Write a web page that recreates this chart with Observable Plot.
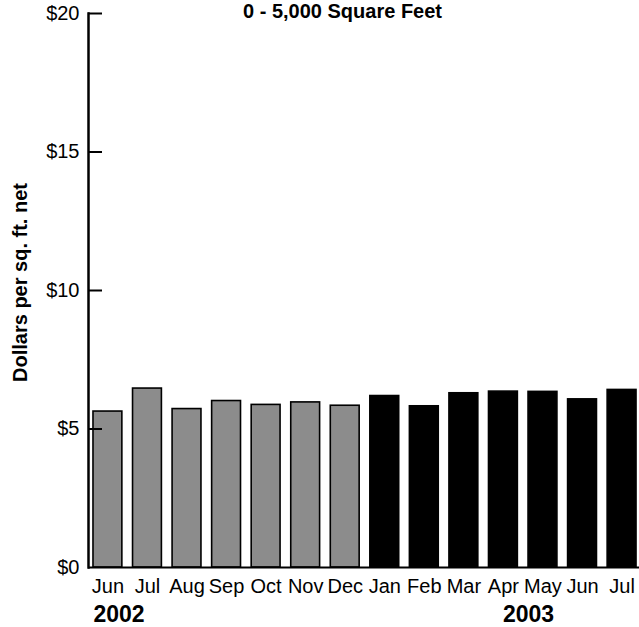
<!DOCTYPE html>
<html>
<head>
<meta charset="utf-8">
<script src="https://cdn.jsdelivr.net/npm/d3@7"></script>
<script src="https://cdn.jsdelivr.net/npm/@observablehq/plot@0.6"></script>
<style>
  html, body { margin: 0; padding: 0; background: #fff; overflow: hidden; }
</style>
</head>
<body>
<div id="chart"></div>
<script>
const title = "0 - 5,000 Square Feet";
const yLabel = "Dollars per sq. ft. net";
const months = ["Jun","Jul","Aug","Sep","Oct","Nov","Dec","Jan","Feb","Mar","Apr","May","Jun","Jul"];
const years  = [2002,2002,2002,2002,2002,2002,2002,2003,2003,2003,2003,2003,2003,2003];
const values = [5.63,6.46,5.72,6.01,5.87,5.96,5.84,6.19,5.82,6.29,6.35,6.34,6.07,6.41];
const yTicks = [0,5,10,15,20];
const yearLabels = ["2002", "2003"];
const yearLabelKeys = ["2002-Jun", "2003-May"];
const colors = {2002: "#8c8c8c", 2003: "#000000"};

const data = months.map((m, i) => ({key: `${years[i]}-${m}`, month: m, year: years[i], value: values[i]}));
const keyToMonth = new Map(data.map(d => [d.key, d.month]));

const W = 639, H = 627, ML = 88, MT = 13, MB = 60;
const font = "'Liberation Sans', Arial, Helvetica, sans-serif";

const chart = Plot.plot({
  width: W,
  height: H,
  marginLeft: ML,
  marginRight: 0,
  marginTop: MT,
  marginBottom: MB,
  style: {fontFamily: font, fontSize: "20px", color: "#000", background: "#fff", overflow: "visible"},
  x: {domain: data.map(d => d.key), range: [ML, 641], round: false, paddingInner: 0.27, paddingOuter: 0.126, label: null},
  y: {domain: [0, 20], label: null},
  marks: [
    Plot.barY(data, {x: "key", y: "value", fill: d => colors[d.year], stroke: "#000", strokeWidth: 1.6}),
    Plot.axisX({tickSize: 0, tickPadding: 11, tickFormat: k => keyToMonth.get(k), label: null, fontSize: 20}),
    Plot.axisY({ticks: yTicks, tickSize: 0, tickPadding: 9, tickFormat: d => "$" + d, label: null, fontSize: 20}),
    Plot.ruleY(yTicks.filter(d => d > 0), {y: d => d, stroke: "#000", strokeWidth: 2, insetRight: W - ML - 14}),
    Plot.ruleY([0], {stroke: "#000", strokeWidth: 2}),
    Plot.frame({anchor: "left", stroke: "#000", strokeWidth: 2.5}),
    Plot.text([yearLabels[0]], {x: [yearLabelKeys[0]], y: [0], text: d => d, textAnchor: "start", dx: -14.5, dy: 54, lineAnchor: "bottom", fontWeight: "bold", fontSize: 23, fill: "#000"}),
    Plot.text([yearLabels[1]], {x: [yearLabelKeys[1]], y: [0], text: d => d, textAnchor: "middle", dx: -14.5, dy: 54, lineAnchor: "bottom", fontWeight: "bold", fontSize: 23, fill: "#000"}),
    Plot.text([title], {frameAnchor: "top", dx: -21.5, dy: 4, lineAnchor: "bottom", fontWeight: "bold", fontSize: 20, fill: "#000"}),
    Plot.text([yLabel], {frameAnchor: "left", textAnchor: "middle", dx: -68, dy: -8, rotate: -90, fontWeight: "bold", fontSize: 20, fill: "#000"})
  ]
});
document.getElementById("chart").appendChild(chart);
</script>
</body>
</html>
